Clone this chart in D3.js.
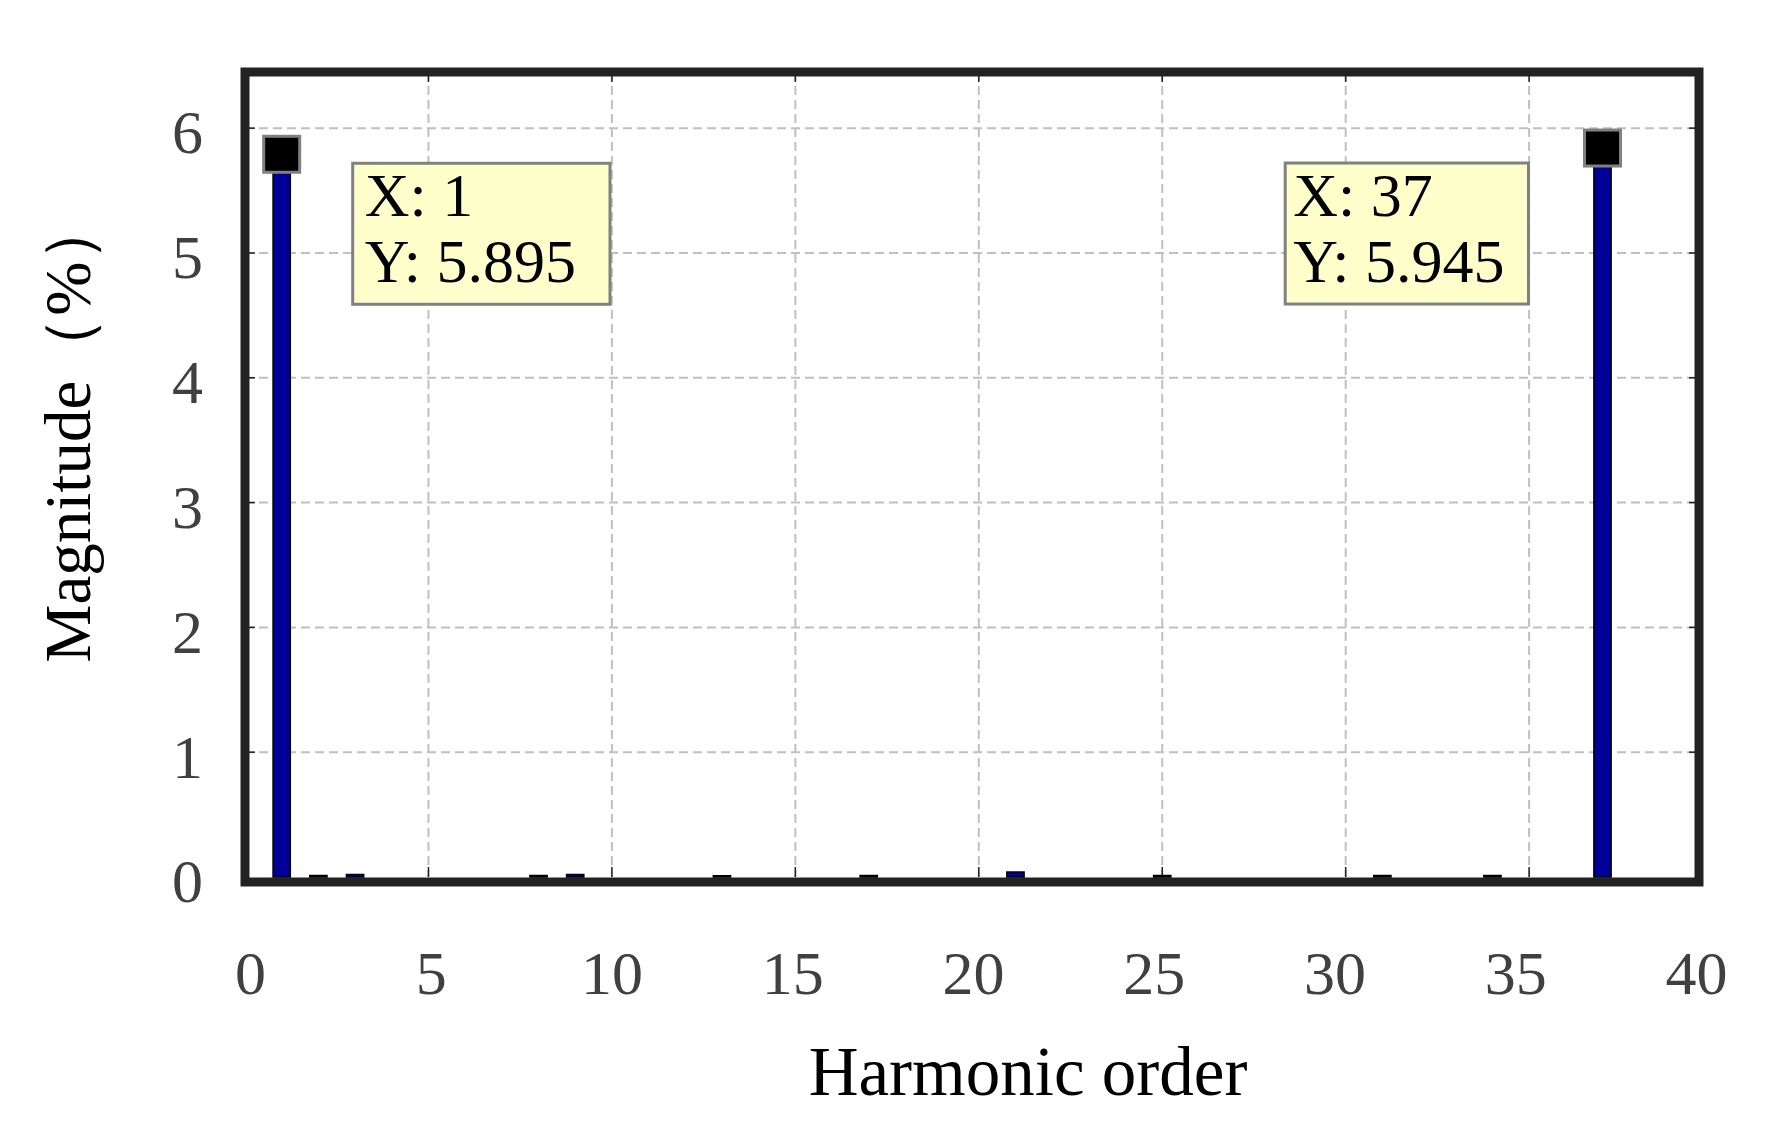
<!DOCTYPE html>
<html>
<head>
<meta charset="utf-8">
<script src="https://cdn.jsdelivr.net/npm/d3@7/dist/d3.min.js"></script>
<style>
body { margin: 0; background: #fff; }
</style>
</head>
<body>
<div id="my_dataviz"></div>
<script>
// data
var harmonics = [1, 2, 3, 4, 5, 6, 7, 8, 9, 10, 11, 12, 13, 14, 15, 16, 17, 18, 19, 20,
                 21, 22, 23, 24, 25, 26, 27, 28, 29, 30, 31, 32, 33, 34, 35, 36, 37, 38, 39];
var magnitudes = [5.895, 0.012, 0.02, 0, 0, 0, 0, 0.012, 0.02, 0, 0, 0, 0.01, 0, 0, 0, 0.012, 0, 0, 0,
                  0.04, 0, 0, 0, 0.012, 0, 0, 0, 0, 0, 0.012, 0, 0, 0.012, 0, 0, 5.945, 0, 0];
var tipX = [1, 37];
var tipY = [5.895, 5.945];
var tipSide = ["right", "left"];
var xTicks = [0, 5, 10, 15, 20, 25, 30, 35, 40];
var yTicks = [0, 1, 2, 3, 4, 5, 6];

var font = '"Liberation Serif", "Times New Roman", serif';

// set the dimensions and margins of the graph
var margin = {top: 72, right: 78, bottom: 248, left: 245},
    width = 1777 - margin.left - margin.right,
    height = 1125 - margin.top - margin.bottom;

var svg = d3.select("#my_dataviz")
  .append("svg")
    .attr("width", width + margin.left + margin.right)
    .attr("height", height + margin.top + margin.bottom)
    .style("background", "#fff")
  .append("g")
    .attr("transform", "translate(" + margin.left + "," + margin.top + ")");

// scales (labels sit on a slightly narrower scale than the grid, as in the figure)
var x = d3.scaleLinear().domain([0, 39.63]).range([0, width]);
var xLab = d3.scaleLinear().domain([0, 40]).range([5, width - 3]);
var y = d3.scaleLinear().domain([0, 6.45]).range([height, 0]);

// grid
svg.append("g").selectAll("line")
  .data(xTicks.filter(function(d) { return d > 0 && d < 40; }))
  .enter().append("line")
    .attr("x1", function(d) { return x(d); })
    .attr("x2", function(d) { return x(d); })
    .attr("y1", 0).attr("y2", height)
    .attr("stroke", "#c0c0c0").attr("stroke-width", 2)
    .attr("stroke-dasharray", "9,5");
svg.append("g").selectAll("line")
  .data(yTicks.filter(function(d) { return d > 0; }))
  .enter().append("line")
    .attr("y1", function(d) { return y(d); })
    .attr("y2", function(d) { return y(d); })
    .attr("x1", 0).attr("x2", width)
    .attr("stroke", "#c0c0c0").attr("stroke-width", 2)
    .attr("stroke-dasharray", "9,5");

// inward tick marks on all four sides
var tk = 10;
var tg = svg.append("g").attr("stroke", "#222").attr("stroke-width", 1.5);
xTicks.filter(function(d) { return d > 0 && d < 40; }).forEach(function(d) {
  tg.append("line").attr("x1", x(d)).attr("x2", x(d)).attr("y1", height).attr("y2", height - tk);
  tg.append("line").attr("x1", x(d)).attr("x2", x(d)).attr("y1", 0).attr("y2", tk);
});
yTicks.filter(function(d) { return d > 0; }).forEach(function(d) {
  tg.append("line").attr("y1", y(d)).attr("y2", y(d)).attr("x1", 0).attr("x2", tk);
  tg.append("line").attr("y1", y(d)).attr("y2", y(d)).attr("x1", width).attr("x2", width - tk);
});

// frame (bottom edge sits just under the bar baseline)
svg.append("rect")
  .attr("x", 0).attr("y", 0)
  .attr("width", width).attr("height", height + 5)
  .attr("fill", "none")
  .attr("stroke", "#222")
  .attr("stroke-width", 9);

// bars
var bw = x(0.47) - x(0);
svg.append("g").selectAll("rect")
  .data(harmonics)
  .enter().append("rect")
    .attr("x", function(d) { return x(d) - bw / 2; })
    .attr("y", function(d, i) { return y(magnitudes[i]); })
    .attr("width", bw)
    .attr("height", function(d, i) { return y(0) - y(magnitudes[i]); })
    .attr("fill", "#000099")
    .attr("stroke", "#000")
    .attr("stroke-width", function(d, i) { return magnitudes[i] > 0 ? 1.5 : 0; });

// y axis labels
var yAxis = svg.append("g")
  .call(d3.axisLeft(y).tickValues(yTicks).tickFormat(d3.format("d")).tickSize(0).tickPadding(42))
  .attr("font-family", font)
  .attr("font-size", 62);
yAxis.select(".domain").remove();
yAxis.selectAll("text").attr("fill", "#404040").attr("dy", "0.4em");

// x axis labels
var xAxis = svg.append("g")
  .attr("transform", "translate(0," + height + ")")
  .call(d3.axisBottom(xLab).tickValues(xTicks).tickFormat(d3.format("d")).tickSize(0).tickPadding(73))
  .attr("font-family", font)
  .attr("font-size", 62);
xAxis.select(".domain").remove();
xAxis.selectAll("text").attr("fill", "#404040");

// axis titles
svg.append("text")
  .attr("x", 783)
  .attr("y", height + 218)
  .attr("text-anchor", "middle")
  .attr("font-family", font)
  .attr("font-size", 69)
  .attr("fill", "#000")
  .text("Harmonic order");

svg.append("text")
  .attr("transform", "translate(-155," + (height / 2 - 45) + ") rotate(-90)")
  .attr("text-anchor", "middle")
  .attr("font-family", font)
  .attr("font-size", 65)
  .attr("fill", "#000")
  .text("Magnitude（%）");

// data tips
var ms = 36;
tipX.forEach(function(h, i) {
  var v = tipY[i];
  svg.append("rect")
    .attr("x", x(h) - ms / 2)
    .attr("y", y(v) + 13 - ms / 2)
    .attr("width", ms).attr("height", ms)
    .attr("fill", "#000")
    .attr("stroke", "#808080")
    .attr("stroke-width", 3);

  var g = svg.append("g");
  var box = g.append("rect")
    .attr("fill", "#ffffcc")
    .attr("stroke", "#808080")
    .attr("stroke-width", 3);
  var t1 = g.append("text").attr("font-family", font).attr("font-size", 62).attr("fill", "#000")
    .text("X: " + h);
  var t2 = g.append("text").attr("font-family", font).attr("font-size", 62).attr("fill", "#000")
    .text("Y: " + v);
  var tw = Math.max(t1.node().getComputedTextLength(), t2.node().getComputedTextLength());
  var right = tipSide[i] == "right";
  var bwid = tw + (right ? 46 : 32), bh = 141;
  var bx = right ? x(h) + 71 : x(h) - 74 - bwid;
  var by = y(v) + (right ? 22 : 28);
  box.attr("x", bx).attr("y", by).attr("width", bwid).attr("height", bh);
  t1.attr("x", bx + (right ? 12 : 8)).attr("y", by + 53);
  t2.attr("x", bx + (right ? 12 : 8)).attr("y", by + 119);
});
</script>
</body>
</html>
